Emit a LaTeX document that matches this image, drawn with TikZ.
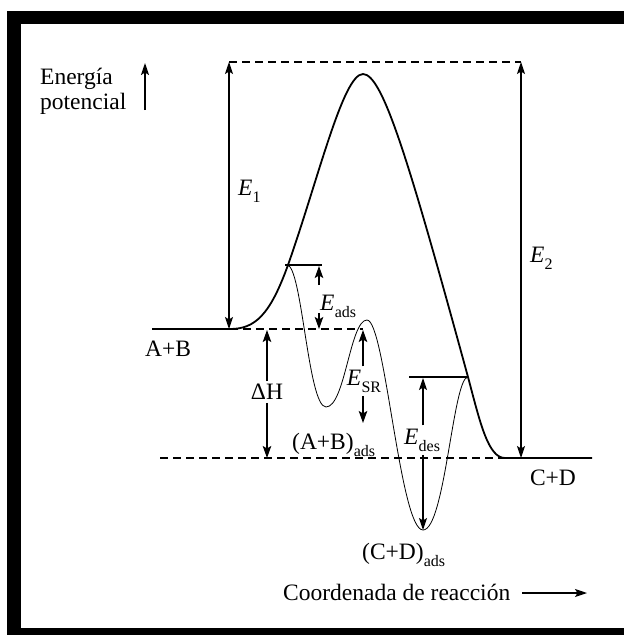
\documentclass[tikz,border=0pt]{standalone}
\usepackage{fontspec}
\setmainfont{Liberation Serif}
\usetikzlibrary{arrows.meta}
\newcommand{\subtxt}[1]{\raisebox{-0.32em}{\fontsize{16}{16}\selectfont #1}}
\newcommand{\Esub}[1]{{\itshape E}\kern0.3pt\subtxt{#1}}
\begin{document}
\begin{tikzpicture}[x=1pt,y=-1pt,
  lbl/.style={inner sep=0pt,font=\fontsize{23.5}{27}\selectfont},
  splitlbl/.style={inner sep=3pt,font=\fontsize{23.5}{27}\selectfont},
  bigarr/.style={{Stealth[length=12pt,width=8pt,inset=2.5pt]}-{Stealth[length=12pt,width=8pt,inset=2.5pt]},line width=1.1pt},
  arr/.style={-{Stealth[length=12pt,width=8.5pt,inset=2.5pt]},line width=1.4pt},
  thinarr/.style={-{Stealth[length=12pt,width=8pt,inset=2.5pt]},line width=1.1pt},
  level/.style={dash pattern=on 8pt off 5pt,line width=1.1pt},
  mainpath/.style={line width=1.8pt,line join=round},
  surfpath/.style={line width=0.8pt},
  stepline/.style={line width=1.3pt}]
\useasboundingbox (0,0) rectangle (624,635);
% frame
\fill[black] (7,11) rectangle (624,635);
\fill[white] (21,24) rectangle (624,628);

% key coordinates
\coordinate (top1) at (229,62);
\coordinate (top2) at (521,62);
\coordinate (ab1) at (152,329);
\coordinate (ab2) at (363,329);
\coordinate (cd1) at (160,458);
\coordinate (cd2) at (592,458);
\coordinate (e1bot) at (229,329);
\coordinate (e2bot) at (521,458);

% dashed levels
\draw[level] (top1) -- (top2);
\draw[level] (ab1) -- (ab2);
\draw[level] (cd1) -- (cd2);

% main (homogeneous) path
\draw[mainpath] (157,329) -- (230,329)
  .. controls (255,329) and (270,315) .. (288,265)
  .. controls (318,180) and (343,74) .. (363,74)
  .. controls (383,74) and (410,165) .. (468,377)
  .. controls (480,422) and (488,458) .. (505,458) -- (592,458);

% catalytic path
\draw[surfpath] (287,265)
  .. controls (302,265) and (308,407) .. (326,407)
  .. controls (345,407) and (350,320) .. (367,320)
  .. controls (385,320) and (400,530) .. (423,530)
  .. controls (445,530) and (453,377) .. (468,377);

% step lines
\coordinate (adsL) at (285,265);
\coordinate (adsR) at (322,265);
\coordinate (desL) at (409,377);
\coordinate (desR) at (468,377);
\draw[stepline] (adsL) -- (adsR);
\draw[stepline] (desL) -- (desR);

% E1, E2
\draw[bigarr] (top1) -- (e1bot);
\draw[bigarr] (top2) -- (e2bot);
\node[lbl,anchor=base west] (E1) at (238,195) {{\itshape E}\subtxt{1}};
\node[lbl,anchor=base west] (E2) at (530,262) {{\itshape E}\subtxt{2}};

% E_ads
\coordinate (adsA1) at (319,285);
\coordinate (adsA2) at (319,266);
\coordinate (adsB1) at (319,313);
\coordinate (adsB2) at (319,329);
\draw[arr] (adsA1) -- (adsA2);
\draw[arr] (adsB1) -- (adsB2);
\node[lbl,anchor=base west] (Eads) at (320,310) {\Esub{ads}};

% Delta H
\node[splitlbl] (dH) at (267,392) {ΔH};
\coordinate (dHtop) at (267,330);
\coordinate (dHbot) at (267,458);
\draw[arr] (dH) -- (dHtop);
\draw[arr] (dH) -- (dHbot);

% E_SR
\node[splitlbl,anchor=base] (Esr) at (364,385) {\Esub{SR}};
\coordinate (srtop) at (363,330);
\coordinate (srbot) at (363,423);
\draw[arr] (Esr.north -| srtop) -- (srtop);
\draw[arr] (Esr.south -| srbot) -- (srbot);

% E_des
\node[splitlbl,anchor=base] (Edes) at (422,444) {\Esub{des}};
\coordinate (destop) at (423,378);
\coordinate (desbot) at (423,530);
\draw[thinarr] (Edes.north -| destop) -- (destop);
\draw[thinarr] (Edes.south -| desbot) -- (desbot);

% state labels
\node[lbl] (AB) at (168,349) {A+B};
\node[lbl] (CD) at (553,478) {C+D};
\node[lbl,anchor=base west] (ABads) at (292,449) {(A+B)\subtxt{ads}};
\node[lbl,anchor=base west] (CDads) at (362,559) {(C+D)\subtxt{ads}};

% axes labels
\node[lbl,anchor=base west] (en) at (40,84) {Energía};
\node[lbl,anchor=base west] (pot) at (40,109) {potencial};
\coordinate (yax1) at (145,110);
\coordinate (yax2) at (145,63);
\draw[thinarr,line width=1.4pt] (yax1) -- (yax2);

\node[lbl,anchor=base west] (xl) at (283,600) {Coordenada de reacción};
\coordinate (xax1) at (522,593);
\coordinate (xax2) at (587,593);
\draw[thinarr] (xax1) -- (xax2);
\end{tikzpicture}
\end{document}
